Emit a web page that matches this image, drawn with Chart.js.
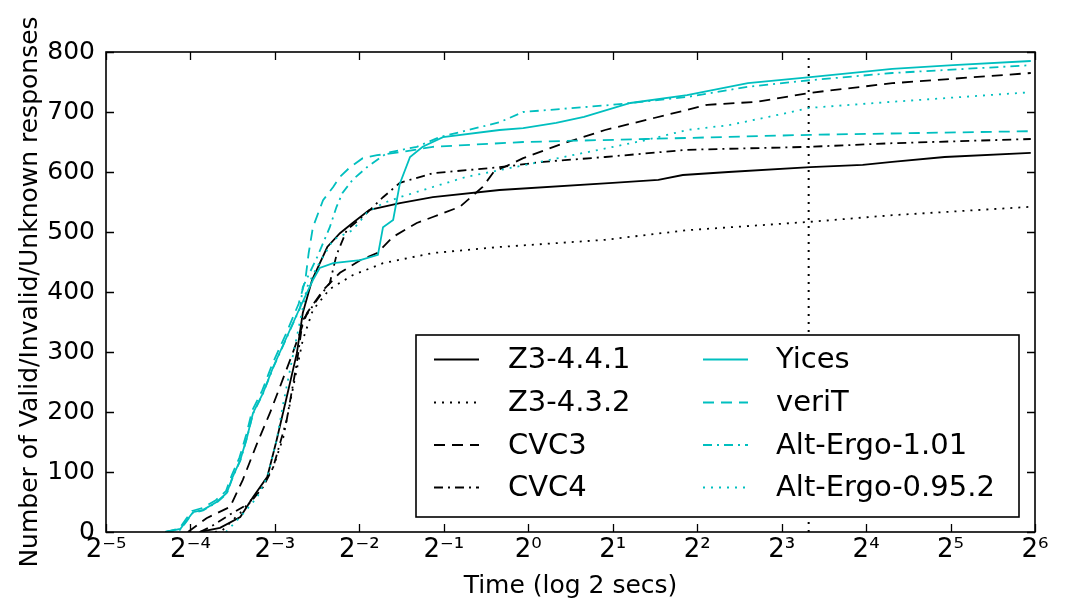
<!DOCTYPE html>
<html><head><meta charset="utf-8">
<script src="https://cdn.jsdelivr.net/npm/chart.js@4.4.1/dist/chart.umd.min.js"></script>
<style>html,body{margin:0;padding:0;background:#fff;}#wrap{width:1067px;height:615px;}</style>
</head><body><div id="wrap"><canvas id="c" width="1067" height="615"></canvas></div>
<script>
// ---- data (x = log2 of time in seconds, y = cumulative responses) ----
const seriesNames = ['Z3-4.4.1','Z3-4.3.2','CVC3','CVC4','Yices','veriT','Alt-Ergo-1.01','Alt-Ergo-0.95.2'];
const z3_441 = [[-3.89,0],[-3.65,7],[-3.41,25],[-3.26,58],[-3.09,92],[-2.98,153],[-2.86,225],[-2.74,298],[-2.67,365],[-2.56,420],[-2.38,475],[-2.23,498],[-2.08,515],[-1.88,537],[-1.52,548],[-1.13,558],[-0.34,570],[1.00,582],[1.54,587],[1.83,595],[2.37,600],[3.34,608],[3.96,612],[4.31,617],[4.93,625],[5.95,632]];
const z3_432 = [[-3.71,0],[-3.62,3],[-3.41,32],[-3.21,65],[-3.02,108],[-2.90,158],[-2.79,237],[-2.67,320],[-2.55,370],[-2.35,405],[-2.08,428],[-1.72,448],[-1.13,465],[-0.34,475],[0.91,487],[1.88,503],[3.34,517],[4.31,528],[5.95,542]];
const cvc3 = [[-4.03,0],[-3.81,23],[-3.53,42],[-3.38,87],[-3.21,148],[-3.06,198],[-2.94,242],[-2.79,298],[-2.62,365],[-2.43,403],[-2.23,432],[-1.99,453],[-1.79,465],[-1.60,492],[-1.32,515],[-1.13,525],[-0.81,542],[-0.54,575],[-0.41,600],[-0.06,623],[0.42,648],[0.91,670],[1.49,690],[2.12,712],[2.71,717],[3.34,732],[4.31,748],[5.95,765]];
const cvc4 = [[-3.89,0],[-3.77,8],[-3.50,32],[-3.30,48],[-3.14,75],[-3.02,108],[-2.86,187],[-2.74,282],[-2.67,353],[-2.50,387],[-2.35,415],[-2.27,462],[-2.15,503],[-1.91,532],[-1.72,558],[-1.52,582],[-1.13,598],[-0.73,603],[-0.34,608],[0.18,617],[0.91,625],[1.88,637],[3.34,642],[4.31,648],[5.95,655]];
const yices = [[-4.30,0],[-4.12,5],[-4.04,20],[-3.97,33],[-3.85,37],[-3.69,50],[-3.57,65],[-3.50,92],[-3.41,120],[-3.33,158],[-3.26,198],[-3.14,232],[-3.02,275],[-2.86,325],[-2.70,375],[-2.55,420],[-2.47,440],[-2.31,448],[-1.99,453],[-1.78,462],[-1.72,508],[-1.60,520],[-1.52,581],[-1.40,625],[-1.25,642],[-1.01,658],[-0.34,670],[-0.06,673],[0.33,682],[0.66,692],[1.21,715],[1.88,728],[2.60,748],[3.34,758],[3.96,767],[4.31,772],[5.03,778],[5.95,785]];
const verit = [[-4.30,0],[-4.13,6],[-4.05,22],[-3.98,35],[-3.86,40],[-3.70,53],[-3.58,68],[-3.51,95],[-3.42,124],[-3.34,162],[-3.27,202],[-3.15,236],[-3.03,280],[-2.87,330],[-2.72,380],[-2.64,420],[-2.60,465],[-2.55,508],[-2.43,553],[-2.31,575],[-2.23,592],[-2.11,608],[-1.96,623],[-1.79,628],[-1.52,633],[-1.13,642],[-0.06,650],[1.39,655],[3.34,662],[5.95,668]];
const altErgo101 = [[-4.30,0],[-4.12,4],[-4.04,19],[-3.97,32],[-3.85,36],[-3.69,49],[-3.57,64],[-3.50,91],[-3.41,119],[-3.33,157],[-3.26,197],[-3.14,231],[-3.02,274],[-2.86,324],[-2.70,374],[-2.67,408],[-2.50,458],[-2.35,508],[-2.27,542],[-2.20,565],[-2.08,587],[-1.91,608],[-1.67,632],[-1.32,642],[-1.05,658],[-0.34,683],[-0.06,700],[1.00,712],[1.88,725],[2.60,742],[3.34,753],[4.31,765],[5.95,778]];
const altErgo0952 = [[-3.58,0],[-3.41,25],[-3.21,58],[-3.09,92],[-2.98,153],[-2.90,215],[-2.79,292],[-2.70,353],[-2.62,408],[-2.50,442],[-2.31,487],[-2.08,503],[-1.91,532],[-1.72,548],[-1.52,558],[-1.13,575],[-0.73,592],[-0.34,603],[0.42,625],[1.39,653],[1.88,670],[2.37,678],[2.85,692],[3.34,707],[3.82,712],[4.31,717],[5.95,733]];
const xTickLabels = ['2\u207B\u2075','2\u207B\u2074','2\u207B\u00B3','2\u207B\u00B2','2\u207B\u00B9','2\u2070','2\u00B9','2\u00B2','2\u00B3','2\u2074','2\u2075','2\u2076'];
const yTickValues = [0,100,200,300,400,500,600,700,800];
const timeoutLog2 = 3.32; // log2(10 s)

// ---- styles ----
const FONT = 'DejaVu Sans';
const CYAN = '#00BFBF';
const colors = ['#000','#000','#000','#000',CYAN,CYAN,CYAN,CYAN];
const DASHED = [11,7], DOTTED = [2,6], DASHDOT = [9,5,2,5];
const dashes = [[],DOTTED,DASHED,DASHDOT,[],DASHED,DASHDOT,DOTTED];
const allSeries = [z3_441,z3_432,cvc3,cvc4,yices,verit,altErgo101,altErgo0952];

const datasets = allSeries.map((s,i)=>({
  label: seriesNames[i],
  data: s.map(p=>({x:p[0],y:p[1]})),
  borderColor: colors[i],
  borderDash: dashes[i],
  borderWidth: 1.8,
  pointRadius: 0,
  tension: 0,
  fill: false,
  order: allSeries.length - i
}));

const decor = {
  id: 'decor',
  beforeDatasetsDraw(chart){
    const {ctx, chartArea:a, scales:{x}} = chart;
    const px = x.getPixelForValue(timeoutLog2);
    ctx.save();
    ctx.beginPath(); ctx.setLineDash([2,6]); ctx.lineWidth = 2; ctx.strokeStyle = '#000';
    ctx.moveTo(px, a.bottom); ctx.lineTo(px, a.top); ctx.stroke();
    ctx.restore();
  },
  afterDatasetsDraw(chart){
    const {ctx, chartArea:a, scales:{x,y}} = chart;
    ctx.save();
    ctx.setLineDash([]);
    ctx.strokeStyle = '#000';
    // inward ticks
    ctx.lineWidth = 1.3;
    ctx.beginPath();
    x.ticks.forEach(t=>{ const p = Math.round(x.getPixelForValue(t.value))+0.5;
      ctx.moveTo(p,a.bottom); ctx.lineTo(p,a.bottom-8); ctx.moveTo(p,a.top); ctx.lineTo(p,a.top+8); });
    y.ticks.forEach(t=>{ const p = Math.round(y.getPixelForValue(t.value))+0.5;
      ctx.moveTo(a.left,p); ctx.lineTo(a.left+8,p); ctx.moveTo(a.right,p); ctx.lineTo(a.right-8,p); });
    ctx.stroke();
    // frame
    ctx.lineWidth = 1.6;
    ctx.strokeRect(a.left, a.top, a.right-a.left, a.bottom-a.top);
    // legend box
    const bx = 416, by = 335, bw = 603, bh = 182;
    ctx.fillStyle = '#fff';
    ctx.fillRect(bx, by, bw, bh);
    ctx.lineWidth = 1.6;
    ctx.strokeRect(bx, by, bw, bh);
    const rows = [359.5, 402.5, 445, 487.5];
    const colSample = [434, 703], colText = [508, 776], sampleLen = 45;
    ctx.font = '29px "' + FONT + '"';
    ctx.textBaseline = 'middle';
    chart.data.datasets.forEach((ds,i)=>{
      const col = Math.floor(i/4), row = i%4;
      const yy = rows[row];
      ctx.beginPath();
      ctx.setLineDash(ds.borderDash);
      ctx.lineWidth = ds.borderWidth;
      ctx.strokeStyle = ds.borderColor;
      ctx.moveTo(colSample[col], yy); ctx.lineTo(colSample[col]+sampleLen, yy);
      ctx.stroke();
      ctx.setLineDash([]);
      ctx.fillStyle = '#000';
      ctx.fillText(ds.label, colText[col], yy+1);
    });
    ctx.restore();
  }
};

new Chart(document.getElementById('c'), {
  type: 'line',
  data: { datasets },
  plugins: [decor],
  options: {
    responsive: false,
    animation: false,
    layout: { padding: { left: 0, top: 52, right: 32, bottom: 0 } },
    plugins: { legend: { display: false }, tooltip: { enabled: false } },
    scales: {
      x: {
        type: 'linear', min: -5, max: 6,
        ticks: { stepSize: 1, padding: 3, color: '#000', font: { family: FONT, size: 26 },
          callback: (v)=> xTickLabels[Math.round(v)+5], maxRotation: 0, autoSkip: false },
        grid: { display: false, drawTicks: false },
        border: { display: false },
        title: { display: true, text: 'Time (log 2 secs)', color: '#000', font: { family: FONT, size: 25 }, padding: { top: 0, bottom: 14 } },
        afterFit: (s)=>{ s.height = 83; }
      },
      y: {
        type: 'linear', min: 0, max: 800,
        afterBuildTicks: (s)=>{ s.ticks = yTickValues.map(v=>({value:v})); },
        ticks: { stepSize: 100, padding: 11, color: '#000', font: { family: FONT, size: 25 } },
        grid: { display: false, drawTicks: false },
        border: { display: false },
        title: { display: true, text: 'Number of Valid/Invalid/Unknown responses', color: '#000', font: { family: FONT, size: 25 }, padding: { top: 15, bottom: 0 } },
        afterFit: (s)=>{ s.width = 106; }
      }
    }
  }
});
</script></body></html>
